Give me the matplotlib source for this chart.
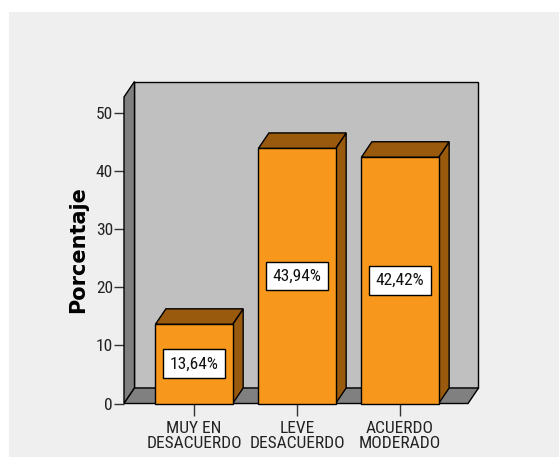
import matplotlib
matplotlib.use("Agg")
import matplotlib.pyplot as plt
from matplotlib.patches import Polygon, Rectangle

categorias = ["MUY EN\nDESACUERDO", "LEVE\nDESACUERDO", "ACUERDO\nMODERADO"]
porcentajes = [13.64, 43.94, 42.42]
yticks = [0, 10, 20, 30, 40, 50]

W, H = 559, 457
fig = plt.figure(figsize=(W / 100, H / 100), dpi=100, facecolor="white")

# fondo gris tipo SPSS (en un eje de fondo)
bg = fig.add_axes([0, 0, 1, 1], zorder=-10)
bg.set_axis_off()
bg.set_xlim(0, W)
bg.set_ylim(H, 0)
bg.add_patch(Rectangle((9, 12), W, H, facecolor="#efefef", edgecolor="none"))

ax = fig.add_axes([124 / W, (H - 403.5) / H, (468 - 124) / W, (403.5 - 97) / H], zorder=1)
ax.set_facecolor("none")
ax.set_frame_on(False)
x0, x1 = -0.68, 2.66
ytop = 52.8
ax.set_xlim(x0, x1)
ax.set_ylim(0, ytop)

# profundidad 3D en unidades de datos
dx = 10.5 / 103
dy = 15.5 / ((403.5 - 97) / ytop)
w = 0.75
naranja = "#f7981d"
marron = "#9a5a0e"
fuente = ["Roboto Condensed", "DejaVu Sans"]

def poly(pts, fc, z):
    ax.add_patch(Polygon(pts, closed=True, facecolor=fc, edgecolor="black",
                         linewidth=1, zorder=z, clip_on=False))

# paredes y suelo
poly([(x0 + dx, dy), (x1 + dx, dy), (x1 + dx, ytop + dy), (x0 + dx, ytop + dy)], "#c0c0c0", 1)
poly([(x0, 0), (x0 + dx, dy), (x0 + dx, ytop + dy), (x0, ytop)], "#808080", 2)
poly([(x0, 0), (x1, 0), (x1 + dx, dy), (x0 + dx, dy)], "#808080", 2)

for i, v in enumerate(porcentajes):
    l, r = i - w / 2, i + w / 2
    poly([(r, 0), (r + dx, dy), (r + dx, v + dy), (r, v)], marron, 3)
    poly([(l, v), (r, v), (r + dx, v + dy), (l + dx, v + dy)], marron, 3)
    poly([(l, 0), (r, 0), (r, v), (l, v)], naranja, 4)
    ax.text(i, v / 2, f"{v:.2f}%".replace(".", ","), ha="center", va="center",
            fontsize=12.5, family=fuente, zorder=6, color="#111111",
            bbox=dict(boxstyle="square,pad=0.4", facecolor="white", edgecolor="black", linewidth=1))

ax.set_yticks(yticks)
ax.set_xticks(range(len(categorias)))
ax.set_xticklabels(categorias, linespacing=1.0)
ax.tick_params(axis="y", length=7, width=1, color="#333333", pad=1)
ax.tick_params(axis="x", length=8.5, width=1, color="#333333", pad=4)
for lab in ax.get_xticklabels() + ax.get_yticklabels():
    lab.set_family(fuente)
    lab.set_fontsize(12.5)
    lab.set_color("#222222")

fig.text(78.5 / W, (H - 250) / H, "Porcentaje", rotation=90, ha="center", va="center",
         fontsize=15, fontweight="bold", family="DejaVu Sans")

fig.savefig("out.png", dpi=100)
